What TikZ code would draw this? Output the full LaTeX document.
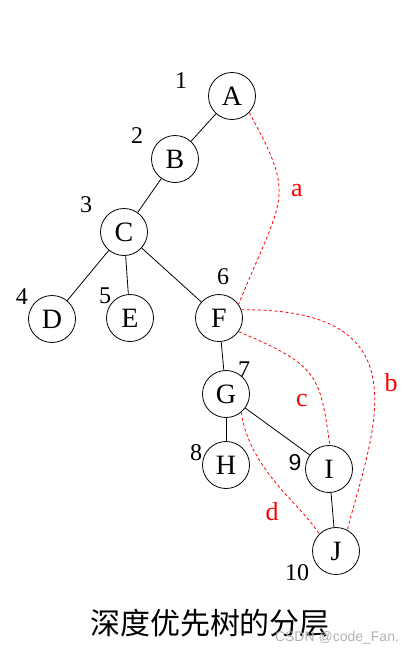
\documentclass[tikz,border=0pt]{standalone}
\usepackage{fontspec}
\setmainfont{Liberation Serif}
\newfontfamily\cjkfont{Noto Sans CJK SC}
\newfontfamily\armfont{Liberation Sans}
\tikzset{
  vtx/.style={circle,draw,line width=0.8pt,minimum size=47pt,inner sep=0pt,font=\fontsize{28}{28}\selectfont},
  num/.style={inner sep=0pt,font=\fontsize{24}{24}\selectfont},
  lbl/.style={inner sep=0pt,text=red,font=\fontsize{26}{26}\selectfont},
  tree/.style={line width=0.8pt},
  back/.style={red,dashed,line width=0.8pt,dash pattern=on 3pt off 2.5pt}
}
\begin{document}
\begin{tikzpicture}[x=1pt,y=-1pt]
\useasboundingbox (0,0) rectangle (412,654);
% vertices
\node[vtx] (A) at (232,96) {A};
\node[vtx] (B) at (175,159) {B};
\node[vtx] (C) at (124,232) {C};
\node[vtx] (D) at (52,319) {D};
\node[vtx] (E) at (130,318) {E};
\node[vtx] (F) at (219,318) {F};
\node[vtx] (G) at (226,394) {G};
\node[vtx] (H) at (226,465) {H};
\node[vtx] (I) at (329,469) {I};
\node[vtx] (J) at (336,551) {J};
% order of visit
\node[num] (n1) at (181,81) {1};
\node[num] (n2) at (137,136) {2};
\node[num] (n3) at (86,205) {3};
\node[num] (n4) at (22,297) {4};
\node[num] (n5) at (105,296) {5};
\node[num] (n6) at (223,277) {6};
\node[num] (n7) at (244,370) {7};
\node[num] (n8) at (196,453) {8};
\node[num,font=\armfont\fontsize{23}{23}\selectfont] (n9) at (295,463) {9};
\node[num] (n10) at (297,573) {10};
% tree edges
\draw[tree] (A) -- (B);
\draw[tree] (B) -- (C);
\draw[tree] (C) -- (D);
\draw[tree] (C) -- (E);
\draw[tree] (C) -- (F);
\draw[tree] (F) -- (G);
\draw[tree] (G) -- (H);
\draw[tree] (G) -- (I);
\draw[tree] (I) -- (J);
% back edges
\draw[back] (A.-44) .. controls (297,199) and (283,195) .. (F.35);
\draw[back] (F.20) .. controls (424,308) and (375,426) .. (J.62);
\draw[back] (F.-35) .. controls (319,365) and (320,376) .. (I.88);
\draw[back] (G.-50) .. controls (249,470) and (303,506) .. (J.135);
\node[lbl] (la) at (297,191) {a};
\node[lbl] (lb) at (391,383) {b};
\node[lbl] (lc) at (302,400) {c};
\node[lbl] (ld) at (272,512) {d};
\node[inner sep=0pt,font=\cjkfont\fontsize{30}{30}\selectfont] (title) at (210,623) {深度优先树的分层};
\node[inner sep=0pt,text=gray!60,font=\armfont\fontsize{14}{14}\selectfont] (mark) at (337,638) {CSDN @code\_Fan.};
\end{tikzpicture}
\end{document}
